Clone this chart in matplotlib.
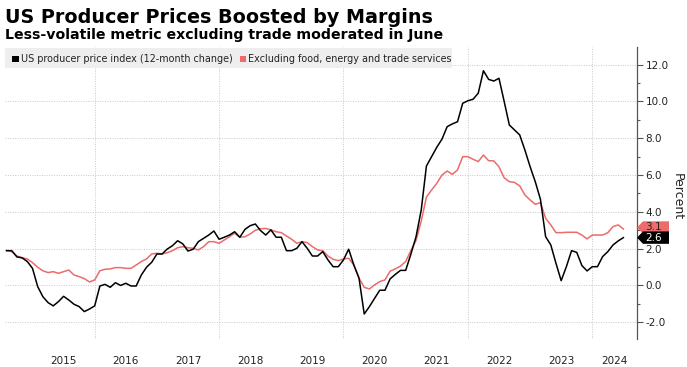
import numpy as np
import matplotlib
matplotlib.use("Agg")
import matplotlib.pyplot as plt
from matplotlib.patches import Polygon, Rectangle
import matplotlib.transforms as mtransforms

# ---------------- data ----------------
start_year, start_month = 2014, 7   # first observation: July 2014 (monthly, through June 2024)

ppi_all = [1.89, 1.89, 1.55, 1.50, 1.30, 0.93, -0.06, -0.61, -0.93, -1.11,
           -0.88, -0.59, -0.79, -1.02, -1.15, -1.42, -1.28, -1.11, -0.03, 0.06,
           -0.10, 0.15, 0.00, 0.12, -0.03, -0.03, 0.57, 0.99, 1.26, 1.71,
           1.71, 1.98, 2.16, 2.43, 2.26, 1.87, 1.97, 2.38, 2.56, 2.74,
           2.96, 2.51, 2.62, 2.74, 2.92, 2.62, 3.05, 3.25, 3.34, 2.98,
           2.74, 3.02, 2.62, 2.62, 1.89, 1.89, 2.02, 2.38, 2.02, 1.60,
           1.60, 1.84, 1.39, 1.02, 1.02, 1.39, 1.97, 1.11, 0.39, -1.55,
           -1.15, -0.70, -0.26, -0.26, 0.36, 0.60, 0.82, 0.82, 1.70, 2.65,
           4.10, 6.49, 7.00, 7.51, 7.95, 8.63, 8.78, 8.90, 9.90, 10.04,
           10.12, 10.45, 11.67, 11.20, 11.11, 11.26, 10.00, 8.72, 8.45, 8.18,
           7.36, 6.46, 5.64, 4.68, 2.65, 2.20, 1.20, 0.26, 1.02, 1.89,
           1.80, 1.08, 0.79, 1.02, 1.02, 1.57, 1.84, 2.20, 2.42, 2.60]

ppi_core = [1.90, 1.84, 1.60, 1.51, 1.44, 1.24, 0.99, 0.80, 0.70, 0.75,
            0.66, 0.75, 0.84, 0.57, 0.48, 0.37, 0.19, 0.30, 0.80, 0.88,
            0.90, 0.97, 0.97, 0.93, 0.93, 1.11, 1.30, 1.44, 1.71, 1.75,
            1.71, 1.78, 1.89, 2.05, 2.11, 2.05, 2.02, 1.93, 2.11, 2.38,
            2.38, 2.29, 2.47, 2.65, 2.84, 2.62, 2.65, 2.80, 3.00, 3.08,
            3.10, 3.02, 2.92, 2.87, 2.69, 2.51, 2.29, 2.38, 2.33, 2.11,
            1.93, 1.89, 1.60, 1.42, 1.35, 1.44, 1.48, 1.11, 0.40, -0.10,
            -0.19, 0.03, 0.21, 0.30, 0.78, 0.90, 1.05, 1.30, 1.90, 2.45,
            3.50, 4.80, 5.19, 5.55, 6.00, 6.22, 6.04, 6.28, 7.00, 7.00,
            6.86, 6.73, 7.09, 6.78, 6.77, 6.45, 5.85, 5.64, 5.60, 5.41,
            4.92, 4.65, 4.41, 4.50, 3.65, 3.29, 2.87, 2.87, 2.89, 2.89,
            2.89, 2.74, 2.53, 2.74, 2.74, 2.74, 2.87, 3.20, 3.29, 3.07]

series_names = ["US producer price index (12-month change)",
                "Excluding food, energy and trade services"]
year_labels = ["2015", "2016", "2017", "2018", "2019", "2020", "2021", "2022", "2023", "2024"]
y_ticks = [-2, 0, 2, 4, 6, 8, 10, 12]
last_labels = ["2.6", "3.1"]

title = "US Producer Prices Boosted by Margins"
subtitle = "Less-volatile metric excluding trade moderated in June"

# ---------------- layout ----------------
W, H = 687, 367
BLACK = "#000000"
RED = "#ec6b6b"
GRID = "#c8c8c8"

n = len(ppi_all)
t = np.array([start_year + (start_month - 1 + i + 1) / 12.0 for i in range(n)])

fig = plt.figure(figsize=(W / 100, H / 100), dpi=100)
ax = fig.add_axes([5 / W, 1 - 339 / H, 632 / W, 292 / H])

x0, x1 = 2014.558, 2024.719
ax.set_xlim(x0, x1)
ax.set_ylim(-2.91, 12.96)

ax.plot(t, ppi_core, color=RED, lw=1.1, zorder=3, solid_joinstyle="round")
ax.plot(t, ppi_all, color=BLACK, lw=1.1, zorder=4, solid_joinstyle="round")

# grid
ax.set_xticks([2016, 2018, 2020, 2022, 2024])
ax.set_xticklabels([])
ax.tick_params(axis="x", which="major", length=0)
label_pos = [int(y) + 0.5 for y in year_labels[:-1]] + [(2024 + x1) / 2]
ax.set_xticks(label_pos, minor=True)
ax.set_xticklabels(year_labels, minor=True)
ax.tick_params(axis="x", which="minor", length=0, labelsize=7.5, pad=12, colors="#222222")

ax.yaxis.tick_right()
ax.set_yticks(y_ticks)
ax.set_yticklabels([f"{v:.1f}" for v in y_ticks])
ax.set_yticks(np.arange(-2, 13, 1), minor=True)
ax.tick_params(axis="y", which="major", length=4, width=0.8, color="#555555",
               labelsize=7.5, pad=2, colors="#222222")
ax.tick_params(axis="y", which="major", colors="#222222", color="#555555")
ax.tick_params(axis="y", which="minor", length=2.5, width=0.8, color="#555555")

ax.grid(True, which="major", color=GRID, lw=0.7, linestyle=(0, (1, 1.5)))
for s in ["top", "left", "bottom"]:
    ax.spines[s].set_visible(False)
ax.spines["right"].set_color("#555555")
ax.spines["right"].set_linewidth(0.9)

# end-value tags
tr = mtransforms.blended_transform_factory(ax.transAxes, ax.transData)
px = 1 / 632.0
hu = 6.2 / 18.4
def tag(yc, face, text, tcolor, z):
    pts = [(1.0, yc), (1 + 6 * px, yc + hu), (1 + 32 * px, yc + hu),
           (1 + 32 * px, yc - hu), (1 + 6 * px, yc - hu)]
    ax.add_patch(Polygon(pts, closed=True, transform=tr, facecolor=face,
                         edgecolor="none", clip_on=False, zorder=z))
    ax.text(1 + 8 * px, yc, text, transform=tr, color=tcolor, fontsize=7.5,
            ha="left", va="center", zorder=z + 0.1, clip_on=False)

tag(ppi_core[-1] + 0.08, RED, last_labels[1], "#222222", 10)
tag(ppi_all[-1], BLACK, last_labels[0], "white", 11)

fig.text(677 / W, 1 - 197 / H, "Percent", rotation=-90, ha="center", va="center",
         fontsize=9, color="#222222")

# titles
fig.text(5 / W, 1 - 23 / H, title, fontsize=13.8, fontweight="bold", ha="left",
         va="baseline", color="black")
fig.text(5 / W, 1 - 39.5 / H, subtitle, fontsize=10.2, fontweight="bold", ha="left",
         va="baseline", color="black")

# legend bar
fig.patches.append(Rectangle((5 / W, 1 - 68 / H), 447 / W, 20 / H, transform=fig.transFigure,
                             facecolor="#eeeeee", edgecolor="none", zorder=5))
fig.patches.append(Rectangle((12.5 / W, 1 - 62 / H), 6 / W, 6 / H, transform=fig.transFigure,
                             facecolor=BLACK, edgecolor="none", zorder=6))
fig.text(21 / W, 1 - 58.5 / H, series_names[0], fontsize=6.9, ha="left", va="center",
         color="#222222", zorder=7)
fig.patches.append(Rectangle((239.5 / W, 1 - 62 / H), 6 / W, 6 / H, transform=fig.transFigure,
                             facecolor=RED, edgecolor="none", zorder=6))
fig.text(248 / W, 1 - 58.5 / H, series_names[1], fontsize=6.9, ha="left", va="center",
         color="#222222", zorder=7)

fig.savefig("out.png", dpi=100)
